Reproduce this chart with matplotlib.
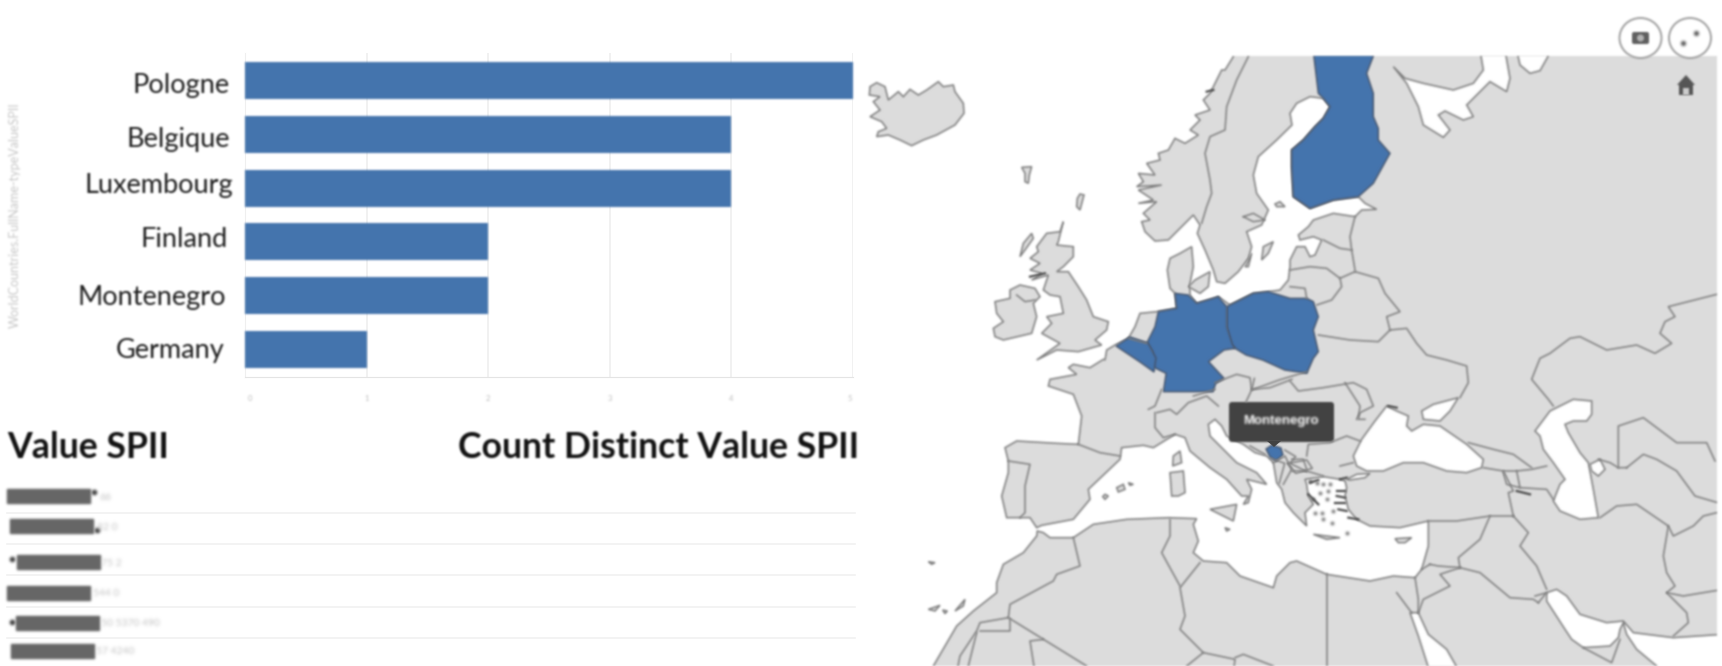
import numpy as np
import matplotlib
matplotlib.use('Agg')
import matplotlib.pyplot as plt
from matplotlib.patches import Polygon, Ellipse, Rectangle, FancyBboxPatch
from matplotlib.transforms import ScaledTranslation
from functools import partial

W, H = 1722, 666

# bar chart data
countries = ['Pologne', 'Belgique', 'Luxembourg', 'Finland', 'Montenegro', 'Germany']
counts = [5, 4, 4, 2, 2, 1]
x_ticks = [0, 1, 2, 3, 4, 5]

# table below the bars (the values are blacked out in the picture)
table_headers = ['Value SPII', 'Count Distinct Value SPII']
table_rows = ['66', '82 0', '75 2', '544 0', '50 5370 490', '57 4240']

BLUE = '#4474ad'
LAND = '#dcdcdc'
EDGE = '#7d7d7d'

ORIGINS = {'A': (860, 50), 'B': (1290, 50), 'C': (860, 356), 'D': (1290, 356)}


def tile(name, pts):
    x0, y0 = ORIGINS[name]
    return [(x0 + x / 3, y0 + y / 3) for x, y in pts]


def wide(pts):
    # the lower map crop that is stretched 1.813 x 3
    return [(860 + x / 1.813, 330 + y / 3) for x, y in pts]


iceland = tile('A', [(30,110),(50,98),(75,110),(85,150),(115,125),(130,140),(150,118),(175,135),(200,120),(235,95),(250,110),
                     (280,105),(285,125),(310,160),(312,190),(285,225),(230,255),(190,270),(155,287),(120,270),(85,255),
                     (50,260),(55,245),(80,235),(65,215),(30,200),(60,180),(40,155),(60,140),(28,135)])
britain = tile('A', [(560,550),(600,545),(610,515),(595,575),(590,585),(640,590),(640,620),(610,650),(590,665),(625,665),(655,710),
                     (680,750),(700,800),(745,815),(740,840),(705,870),(725,885),(655,905),(590,900),(530,930),(600,880),
                     (545,850),(575,820),(560,800),(610,790),(600,740),(570,735),(550,720),(565,675),(515,690),(545,670),(510,660),
                     (540,640),(510,625),(535,605),(530,590)])
ireland = tile('A', [(450,720),(480,705),(525,715),(540,740),(520,760),(530,800),(515,850),(430,870),(405,860),(400,835),
                     (430,815),(410,790),(405,755),(450,745)])
islands = [
    iceland, britain, ireland,
    tile('A', [(485,352),(515,350),(508,375),(505,400),(495,395),(495,370)]),
    tile('A', [(660,432),(672,435),(660,480),(650,470),(652,445)]),
    tile('A', [(515,550),(490,580),(480,620),(495,600),(520,565)]),
    tile('A', [(1240,575),(1210,590),(1205,630),(1225,610)]),
    tile('A', [(1175,610),(1155,650),(1165,650)]),
    tile('A', [(1005,690),(1050,665),(1045,710),(1020,730),(985,710)]),
    tile('A', [(1245,462),(1260,455),(1275,470),(1250,470)]),
    tile('C', [(960,285),(940,300),(938,330),(965,320)]),
    tile('C', [(930,350),(970,345),(975,410),(955,420),(935,420)]),
    tile('C', [(770,395),(790,385),(795,400),(775,408)]),
    tile('C', [(735,415),(745,420),(735,430),(728,422)]),
    tile('C', [(805,380),(820,385),(810,388)]),
    tile('C', [(1050,460),(1130,445),(1120,495),(1090,480)]),
    tile('C', [(1095,515),(1110,520),(1100,525)]),
    tile('C', [(205,617),(225,620),(215,625)]),
    tile('C', [(205,760),(240,748),(225,765)]),
    tile('C', [(285,765),(315,730),(310,750)]),
    tile('C', [(248,762),(262,765),(255,773)]),
    tile('D', [(70,535),(110,540),(150,545),(110,550)]),
    tile('D', [(315,548),(365,545),(345,560),(325,560)]),
]

# one outline from the top of Norway all round Europe and North Africa
mainland = (
    tile('A', [(1115,5),(1120,20),(1095,60),(1085,60),(1060,110),(1050,130),(1030,150),(1050,180),(1005,195),(1020,210),
               (990,240),(1015,255),(975,280),(945,265),(925,300),(895,310),(900,330),(860,340),(885,375),(835,370),
               (850,395),(830,410),(905,405),(835,420),(880,450),(835,460),(890,455),(850,490),(870,510),(845,515),
               (855,545),(885,573),(925,570),(960,535),(1000,495),
               (1020,525),(1012,550),(1035,600),(1060,660),(1070,695),(1095,700),(1135,665),(1165,625),(1175,590),
               (1160,545),(1205,525),(1225,480),(1190,430),(1180,375),(1195,320),(1250,270),(1296,225)])
    + tile('B', [(0,190),(20,160),(60,140),(100,145),(120,170),(100,205),(75,230),(40,270),(5,300),(5,350),(10,440),
                 (60,475),(130,450),(205,440),(225,460),(260,478),(215,480),(195,500),(130,490),(70,510),(55,530),
                 (25,555),(30,570),(70,560),(95,570),(75,615),(60,620),(45,590),(20,590),(0,630),(0,650)])
    + tile('A', [(1285,690),(1260,720),(1225,725),(1180,730),(1110,765),(1075,740),(1060,745),(1010,760),(990,735),
                 (990,700),(1000,650),(995,590),(960,610),(930,625),(922,660),(930,715),(945,730),(950,775),(890,785),
                 (840,790),(825,830),(805,865),(765,885),(740,900),(735,930)])
    + tile('C', [(730,10),(690,35),(640,25),(625,35),(650,55),(570,70),(565,90),(640,115),(665,180),(655,265),(590,262),
                 (470,255),(435,275),(445,315),(445,350),(425,420),(440,485),(510,485),(530,515),(545,508),(640,490),
                 (690,430),(685,400),(780,310),(785,275),(850,268),(880,275),(945,235),(975,245),(990,285),(1050,335),
                 (1100,370),(1145,420),(1165,420),(1150,445),(1165,440),(1175,400),(1160,370),(1220,385),(1190,350),
                 (1130,320),(1100,290),(1050,240),(1045,205),(1065,190),(1085,210),(1100,240),(1150,265),(1185,290),
                 (1220,300),(1240,320),(1250,380),(1265,400)])
    + tile('D', [(-15,440),(10,470),(30,490),(50,510),(45,470),(70,445),(55,420),(50,385),(45,370),(100,362),(150,370),
                 (165,375),(170,395),(165,420),(175,460),(200,490),(240,510),(330,515),(415,495),(415,570),(395,640),
                 (375,665),(310,660),(240,675),(110,655),(20,615),(0,620)])
    + tile('C', [(1250,660),(1240,695),(1140,660),(1100,620),(1030,615),(1000,590),(1015,555),(1000,505),(1010,488),
                 (925,485),(800,490),(700,505),(640,545),(570,545),(550,530),(532,525),(530,540),(490,590),(430,625),
                 (410,680),(410,710),(340,765),(290,810),(220,930),(210,950)])
    + tile('D', [(1100,950),(1100,930),(1040,880),(1010,835),(1000,800),(990,820),(985,845),(960,870),(880,875),(845,850),
                 (825,820),(770,735),(770,710),(800,700),(830,720),(870,775),(950,800),(1000,795),(1030,830),(1150,845),
                 (1300,835)])
    + tile('B', [(1300,0),(1115,0)])
)

seas = [
    tile('B', [(570,0),(580,60),(550,100),(490,120),(400,100),(345,85),(310,50),(350,100),(385,170),(400,225),(460,262),
               (480,240),(445,195),(465,183),(520,210),(550,200),(530,165),(600,95),(650,125),(660,85),(645,0)]),
    tile('B', [(680,0),(690,45),(720,70),(750,62),(785,0)]),
    tile('D', [(190,300),(215,250),(255,195),(290,150),(320,165),(355,180),(350,210),(365,225),(400,205),(450,210),
               (530,265),(580,310),(575,335),(530,350),(470,345),(400,320),(340,320),(280,345),(230,345),(200,330)]),
    tile('D', [(395,165),(430,145),(505,125),(480,165),(450,195),(400,190)]),
    tile('D', [(735,225),(780,165),(850,130),(905,135),(905,175),(890,195),(850,195),(825,205),(835,230),(870,290),
               (895,320),(910,400),(925,485),(870,490),(810,465),(790,435),(810,385),(825,370),(790,320),(760,280),
               (750,240)]),
    tile('D', [(900,325),(930,310),(945,340),(925,360),(905,345)]),
    tile('D', [(170,370),(200,355),(240,352),(225,365),(180,372)]),
    tile('D', [(360,770),(385,770),(415,835),(470,880),(510,950),(420,950),(385,840)]),
]

borders = [
    tile('A', [(1165,20),(1130,90),(1100,170),(1095,240),(1050,260),(1035,310),(1050,390),(1055,430),(1040,470),(1025,520)]),
    tile('A', [(1150,500),(1180,490),(1215,510),(1180,515),(1150,500)]),
    tile('B', [(195,500),(180,560),(185,600),(195,660)]),
    tile('B', [(100,570),(150,595),(185,600)]),
    tile('B', [(0,660),(60,650),(110,655),(150,685),(195,665)]),
    tile('B', [(150,685),(155,710),(125,750),(80,765)]),
    tile('B', [(0,710),(45,715),(50,745)]),
    tile('B', [(195,665),(265,685),(285,730),(330,785),(290,800),(300,840)]),
    tile('B', [(85,855),(180,870),(265,875),(300,840),(350,835),(380,880),(410,915),(470,930)]) + tile('D', [(530,30),(535,80),(510,125)]),
    tile('B', [(1300,728),(1135,770),(1155,800),(1125,815),(1110,850),(1145,880),(1095,910),(1040,885),(950,900),(870,860),
               (840,865),(780,910),(750,925)]) + tile('D', [(725,70),(775,130),(790,150)]),
    tile('A', [(805,865),(860,880)]),
    tile('A', [(470,735),(495,755),(525,750)]),
    # western Europe
    tile('C', [(905,100),(885,150),(865,160)]),
    tile('C', [(890,170),(930,160),(950,175),(985,140),(1040,120),(1075,150)]),
    tile('C', [(885,170),(885,215),(910,245),(945,235)]),
    tile('C', [(1000,120),(1065,100)]),
    tile('C', [(1065,80),(1130,55),(1170,65),(1175,100),(1230,95),(1296,70)]),
    tile('C', [(1170,270),(1215,295)]),
    tile('C', [(1240,320),(1275,300),(1295,340),(1270,385)]),
    tile('C', [(655,265),(720,290),(780,300)]),
    tile('C', [(445,315),(510,325),(495,390),(495,470),(480,485)]),
    # eastern Europe
    tile('D', [(0,75),(25,105),(100,95),(160,85),(190,80),(230,100),(250,150),(210,170),(200,190)]),
    tile('D', [(165,80),(210,150),(205,190),(225,190)]),
    tile('D', [(50,300),(55,265),(120,260),(170,240),(210,255)]),
    tile('D', [(150,330),(190,320)]),
    tile('D', [(5,345),(50,345),(100,360)]),
    tile('D', [(5,310),(40,310),(50,340)]),
    wide([(715,145),(710,180),(700,215)]),
    wide([(710,180),(760,150),(810,125)]),
    wide([(770,360),(790,380),(780,400),(810,425)]),
    wide([(775,400),(810,390),(820,415),(790,430),(775,400)]),
    wide([(745,385),(770,400),(760,460)]),
    # north Africa
    tile('C', [(640,545),(660,630),(590,655),(580,675),(450,745),(445,785),(360,800),(350,825),(300,900),(290,950)]),
    tile('C', [(360,825),(450,825),(450,790)]),
    tile('C', [(350,830),(320,950)]),
    tile('C', [(445,785),(680,930)]),
    tile('C', [(550,850),(510,855),(525,950)]),
    tile('C', [(930,490),(930,540),(905,590),(960,690)]),
    tile('C', [(1020,620),(960,695),(975,780),(960,820),(1030,890),(980,930)]),
    tile('C', [(1030,890),(1125,910),(1120,950)]),
    tile('C', [(1125,905),(1150,895),(1240,930)]),
    tile('D', [(110,655),(110,950)]),
    # middle east
    tile('D', [(415,495),(500,495),(600,480),(670,480)]),
    tile('D', [(600,480),(570,550),(505,605),(510,635),(445,630),(420,625)]),
    tile('D', [(510,635),(450,655),(480,690),(400,730),(385,770)]),
    tile('D', [(395,640),(420,625)]),
    tile('D', [(375,665),(385,730),(385,770)]),
    tile('D', [(510,635),(570,650),(660,725),(730,730),(745,740)]),
    tile('D', [(670,480),(715,530),(690,570),(740,630),(770,700)]),
    tile('D', [(580,335),(640,345),(670,405),(655,410),(670,480)]),
    tile('D', [(535,260),(610,280),(670,295),(725,335)]),
    tile('D', [(640,345),(680,345),(725,340),(770,330)]),
    tile('D', [(640,350),(650,385),(690,395),(680,345)]),
    tile('D', [(690,395),(770,400),(790,430)]),
    tile('D', [(930,485),(980,450),(1040,445),(1135,510),(1120,600),(1130,650),(1155,690),(1130,710),(1190,770),(1195,800),(1150,840)]),
    tile('D', [(1130,710),(1180,720),(1300,700)]),
    tile('D', [(1135,510),(1150,540),(1210,510),(1240,480),(1300,465)]),
    tile('D', [(1010,335),(1060,295),(1100,310),(1160,345),(1215,420),(1300,445)]),
    tile('D', [(925,310),(960,320),(985,335),(1010,335)]),
    tile('D', [(985,335),(985,210),(1060,185),(1160,260),(1250,260),(1275,315)]),
    tile('D', [(735,720),(770,710),(745,740)]),
    tile('D', [(880,875),(965,920),(990,850)]),
    tile('D', [(320,710),(335,730),(365,770)]),
]

# coastline scratches, darker than the borders
fjords = [
    tile('A', [(510,680),(555,670)]), tile('A', [(1040,125),(1060,120)]),
    tile('D', [(680,405),(720,415)]), tile('D', [(295,150),(320,155)]),
    tile('D', [(60,380),(85,372)]), tile('D', [(140,405),(165,405)]), tile('D', [(140,420),(165,425)]),
    tile('D', [(135,440),(165,440)]), tile('D', [(145,460),(170,465)]), tile('D', [(175,485),(205,490)]),
    tile('D', [(55,415),(85,445)]), tile('D', [(150,370),(170,365)]),
]
aegean_x = [60,80,100,120,90,110,95,125,170,70,130,115,75,100]
aegean_y = [375,380,385,385,410,430,470,500,530,430,465,405,470,490]

finland = tile('B', [(70,5),(85,130),(100,145),(120,170),(100,205),(75,230),(40,270),(5,300),(5,350),(10,440),(60,475),
                     (130,450),(205,440),(250,400),(300,310),(265,270),(265,235),(250,200),(250,130),(230,70),(255,5)])
poland = (tile('A', [(1100,770),(1110,765),(1180,730),(1225,725)])
          + tile('B', [(0,745),(50,745),(70,755),(85,800),(70,840),(85,905),(70,925)])
          + wide([(810,130),(770,120),(730,90),(700,75),(680,55),(672,45)])
          + tile('A', [(1100,830)]))
germany = (tile('A', [(945,730),(985,735),(1010,760),(1060,745),(1075,740),(1100,770),(1100,830),(1118,885)])
           + wide([(680,55),(660,60),(632,95),(660,145),(645,160),(640,185),(550,185),(555,130),(530,110),(530,65)])
           + tile('A', [(860,880),(885,830),(895,785),(950,775)]))
belgium = [(1116,346),(1130,337),(1148,343),(1156,358),(1154,372),(1140,362)]
montenegro = [(1266,449),(1272,445),(1281,448),(1283,455),(1276,461),(1270,457)]


def soft(img, dpi, passes=2):
    # binomial blur, the reference is an upscaled screenshot
    pad = passes + 1
    out = np.pad(img, ((pad, pad), (pad, pad), (0, 0)))
    alpha = out[..., 3:4]
    out = np.concatenate([out[..., :3] * alpha, alpha], axis=2)
    for _ in range(passes):
        for axis in (0, 1):
            out = (np.roll(out, 1, axis) + 2 * out + np.roll(out, -1, axis)) / 4
    a = out[..., 3:4]
    rgb = np.where(a > 0, out[..., :3] / np.maximum(a, 1e-6), 0)
    return np.concatenate([np.clip(rgb, 0, 1), a], axis=2), -pad, -pad


softer = partial(soft, passes=5)


def axes_rect(left, top, right, bottom):
    return [left / W, 1 - bottom / H, (right - left) / W, (bottom - top) / H]


plt.rcParams['font.family'] = ['Lato', 'DejaVu Sans']
fig = plt.figure(figsize=(W / 100, H / 100), dpi=100, facecolor='white')

# ---------------------
# bar chart
# ---------------------
ax = fig.add_axes(axes_rect(245, 53, 853, 377))
bars = ax.barh(range(len(countries)), counts, height=0.69, color=BLUE, zorder=3)
for b in bars:
    b.set_agg_filter(soft)
ax.set_xlim(0, 5)
ax.set_ylim(5.52, -0.52)
ax.set_xticks(x_ticks)
ax.set_yticks(range(len(countries)), countries)
ax.grid(axis='x', color='#efefef', lw=1.2, zorder=0)
ax.tick_params(axis='x', length=0, pad=13, labelsize=5.5, labelcolor='#bdbdbd')
ax.tick_params(axis='y', length=0, pad=11, labelsize=19.5, labelcolor='#1c1c1c')
for s in ['top', 'right']:
    ax.spines[s].set_visible(False)
ax.spines['left'].set_color('#efefef')
ax.spines['bottom'].set_color('#e4e4e4')

# the category labels sit a bit unevenly in the screenshot (dx, dy in px)
label_nudge = [(0, 2), (0, 2), (3, -5), (-2, -5), (-4, 0), (-5, -1)]
for lab, (dx, dy) in zip(ax.get_yticklabels(), label_nudge):
    lab.set_transform(lab.get_transform() + ScaledTranslation(dx / 100, -dy / 100, fig.dpi_scale_trans))
    lab.set_agg_filter(soft)
tick_nudge = [5, 0, 0, 0, 0, -3]
for lab, dx in zip(ax.get_xticklabels(), tick_nudge):
    lab.set_transform(lab.get_transform() + ScaledTranslation(dx / 100, 0, fig.dpi_scale_trans))
    lab.set_agg_filter(soft)

ax.set_ylabel('WorldCountries.FullName-typeValueSPII', fontsize=9, color='#c6c6c6')
ax.yaxis.set_label_coords(-0.368, 0.5)
ax.yaxis.label.set_agg_filter(soft)

# ---------------------
# table and icons, in reference pixels
# ---------------------
over = fig.add_axes([0, 0, 1, 1], zorder=5)
over.set_xlim(0, W)
over.set_ylim(H, 0)
over.axis('off')
over.patch.set_alpha(0)

over.text(7, 447, table_headers[0], fontsize=25.7, color='#111111', va='center', ha='left',
          fontweight='bold', agg_filter=soft)
over.text(859, 447, table_headers[1], fontsize=25.7, color='#111111', va='center', ha='right',
          fontweight='bold', agg_filter=soft)

for y in [513, 544, 575, 607, 638]:
    over.plot([7, 855], [y, y], color='#f1f1f1', lw=1.2)

smudge_left = [7, 10, 17, 7, 16, 11]
smudge_top = [489, 519, 555, 586, 616, 644]
text_left = [100, 97, 101, 93, 101, 96]
for sx, sy, tx, txt in zip(smudge_left, smudge_top, text_left, table_rows):
    over.add_patch(Rectangle((sx, sy), 83, 14, color='#666666', agg_filter=partial(soft, passes=3)))
    over.text(tx, sy + 8, txt, fontsize=7.5, color='#c2c2c2', va='center', agg_filter=softer)
over.scatter([94, 97, 12, 12], [492, 530, 559, 622], s=16, color='#3a3a3a', agg_filter=soft, linewidths=0)

# ---------------------
# map
# ---------------------
m = fig.add_axes(axes_rect(860, 56, 1717, 666), zorder=2)
m.set_xlim(860, 1717)
m.set_ylim(666, 56)
m.axis('off')

m.add_patch(Polygon(mainland, closed=True, facecolor=LAND, edgecolor=EDGE, lw=1.1, agg_filter=soft))
for sea in seas:
    m.add_patch(Polygon(sea, closed=True, facecolor='white', edgecolor=EDGE, lw=1.1, agg_filter=soft))
for isl in islands:
    m.add_patch(Polygon(isl, closed=True, facecolor=LAND, edgecolor=EDGE, lw=1.1, agg_filter=soft))
for line in borders:
    xs, ys = zip(*line)
    m.plot(xs, ys, color=EDGE, lw=1.1, agg_filter=soft)
for line in fjords:
    xs, ys = zip(*line)
    m.plot(xs, ys, color='#4a4a4a', lw=1.6, agg_filter=soft)
ae = tile('D', list(zip(aegean_x, aegean_y)))
m.scatter([p[0] for p in ae], [p[1] for p in ae], s=6, color='#4a4a4a', linewidths=0, agg_filter=soft)

for shape in [finland, poland, germany, belgium, montenegro]:
    m.add_patch(Polygon(shape, closed=True, facecolor=BLUE, edgecolor='#44536a', lw=1.0, agg_filter=soft))

# tooltip on Montenegro
m.add_patch(FancyBboxPatch((1231, 404), 101, 36, boxstyle='round,pad=2,rounding_size=3',
                           facecolor='#424242', edgecolor='none', agg_filter=soft))
m.add_patch(Polygon([(1267, 441), (1281, 441), (1274, 447)], closed=True, facecolor='#424242', edgecolor='none'))
m.text(1281, 421, 'Montenegro', family='Liberation Sans', fontweight='bold', fontsize=9.5, color='white',
       ha='center', va='center', agg_filter=partial(soft, passes=3))

# camera / scatter / home buttons
over.add_patch(Ellipse((1640.5, 38), 42, 40, facecolor='white', edgecolor='#999999', lw=1.3, agg_filter=soft))
over.add_patch(Ellipse((1690, 38), 42, 40, facecolor='white', edgecolor='#999999', lw=1.3, agg_filter=soft))
over.add_patch(FancyBboxPatch((1633, 33), 15, 10, boxstyle='round,pad=1,rounding_size=2',
                              facecolor='#5f5f5f', edgecolor='none', agg_filter=soft))
over.add_patch(Ellipse((1640.5, 38), 7, 7, facecolor='#b4b4b4', edgecolor='none', agg_filter=soft))
over.scatter([1695.6, 1683], [32.7, 43], s=14, color='#555555', linewidths=0, agg_filter=soft)
over.add_patch(Polygon([(1686, 75), (1695, 85), (1693, 85), (1693, 95), (1679, 95), (1679, 85), (1677, 85)],
                       closed=True, facecolor='#555555', edgecolor='none', agg_filter=soft))
over.add_patch(Rectangle((1683, 88), 6, 7, facecolor='#cccccc', edgecolor='none', agg_filter=soft))

fig.savefig('out.png', dpi=100, facecolor='white')
